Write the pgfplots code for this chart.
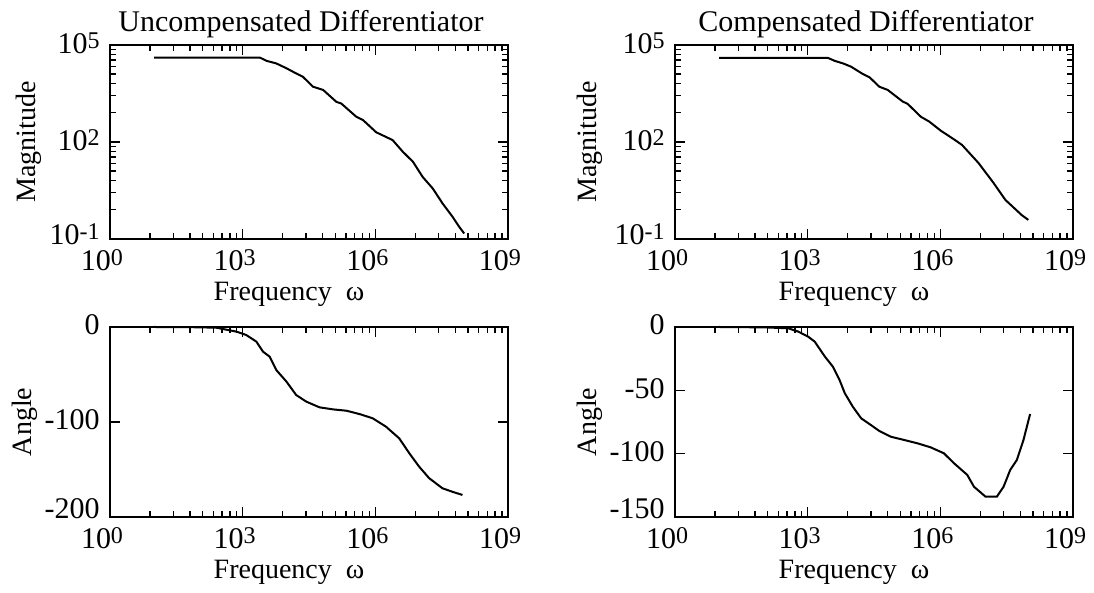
\documentclass[border=0pt]{standalone}
\usepackage{fontspec}
\setmainfont{Liberation Serif}
\usepackage{pgfplots}
\pgfplotsset{compat=1.18}
\newcommand{\fsz}{\fontsize{14}{16}\selectfont}
\newcommand{\ttz}{\fontsize{15}{17}\selectfont}
\newcommand{\tfz}{\fontsize{15}{17}\selectfont}
\newcommand{\tsup}[1]{\raisebox{2.5pt}{\fontsize{12}{13}\selectfont #1}}
\pgfplotsset{every axis title/.style={at={(0.5,1)}, anchor=base, yshift=6.5pt, xshift=-4pt, font=\ttz}}
\begin{document}
\begin{tikzpicture}
\useasboundingbox (0,0) rectangle (547pt,296.5pt);
% ---------- top left
\begin{axis}[at={(55pt,274pt)}, anchor=north west,
    scale only axis, width=199pt, height=97pt,
    xmode=log, ymode=log, xmin=1, xmax=1e9, ymin=0.1, ymax=1e5,
    xtick={1,1e3,1e6,1e9},
    xticklabels={10\tsup{0},10\tsup{3},10\tsup{6},10\tsup{9}},
    minor xtick={8,27,64,125,216,343,512,729,8e3,2.7e4,6.4e4,1.25e5,2.16e5,3.43e5,5.12e5,7.29e5,8e6,2.7e7,6.4e7,1.25e8,2.16e8,3.43e8,5.12e8,7.29e8},
    ytick={0.1,100,1e5},
    yticklabels={\raisebox{3pt}{10\tsup{-1}},10\tsup{2},10\tsup{5}},
    minor ytick={0.8,2.7,6.4,12.5,21.6,34.3,51.2,72.9,800,2700,6400,12500,21600,34300,51200,72900},
    tick align=inside, major tick length=5pt, minor tick length=3pt,
    axis line style={line width=1pt},
    every tick/.append style={black, line width=0.7pt},
    tick label style={font=\tfz, inner sep=1pt}, label style={font=\fsz},
    xticklabel style={xshift=-4pt, yshift=-4.3pt},
    yticklabel style={xshift=-4pt, yshift=1pt},
    xlabel={Frequency\ \ ω},
    xlabel style={at={(axis description cs:0.5,0)}, anchor=base, yshift=-31pt, xshift=-10pt},
    ylabel={Magnitude},
    ylabel style={at={(axis description cs:-0.205,0.5)}, anchor=center},
    title={Uncompensated Differentiator}, clip=false]
\addplot[black, line width=1pt, mark=none] table {
x y
1e1 4.074e4
2.455e3 4.074e4
3.467e3 3.236e4
5.754e3 2.692e4
9.772e3 1.905e4
1.622e4 1.318e4
2.291e4 1.047e4
3.890e4 5.129e3
6.607e4 4.074e3
1.318e5 1.738e3
1.698e5 1.549e3
3.715e5 6.026e2
5.248e5 4.786e2
1.047e6 1.995e2
2.455e6 1.148e2
4.169e6 5.012e1
7.079e6 2.455e1
1.175e7 8.318
1.995e7 3.631
3.311e7 1.259
5.623e7 0.4786
7.943e7 0.2344
1.023e8 0.1479
};
\end{axis}
% ---------- top right
\begin{axis}[at={(337.5pt,274pt)}, anchor=north west,
    scale only axis, width=199pt, height=97pt,
    xmode=log, ymode=log, xmin=1, xmax=1e9, ymin=0.1, ymax=1e5,
    xtick={1,1e3,1e6,1e9},
    xticklabels={10\tsup{0},10\tsup{3},10\tsup{6},10\tsup{9}},
    minor xtick={8,27,64,125,216,343,512,729,8e3,2.7e4,6.4e4,1.25e5,2.16e5,3.43e5,5.12e5,7.29e5,8e6,2.7e7,6.4e7,1.25e8,2.16e8,3.43e8,5.12e8,7.29e8},
    ytick={0.1,100,1e5},
    yticklabels={\raisebox{3pt}{10\tsup{-1}},10\tsup{2},10\tsup{5}},
    minor ytick={0.8,2.7,6.4,12.5,21.6,34.3,51.2,72.9,800,2700,6400,12500,21600,34300,51200,72900},
    tick align=inside, major tick length=5pt, minor tick length=3pt,
    axis line style={line width=1pt},
    every tick/.append style={black, line width=0.7pt},
    tick label style={font=\tfz, inner sep=1pt}, label style={font=\fsz},
    xticklabel style={xshift=-4pt, yshift=-4.3pt},
    yticklabel style={xshift=-4pt, yshift=1pt},
    xlabel={Frequency\ \ ω},
    xlabel style={at={(axis description cs:0.5,0)}, anchor=base, yshift=-31pt, xshift=-10pt},
    ylabel={Magnitude},
    ylabel style={at={(axis description cs:-0.215,0.5)}, anchor=center},
    title={Compensated Differentiator}, clip=false]
\addplot[black, line width=1pt, mark=none] table {
x y
1e1 3.981e4
2.884e3 3.981e4
4.074e3 3.236e4
6.310e3 2.692e4
9.550e3 2.138e4
1.778e4 1.259e4
2.512e4 1.000e4
4.169e4 5.129e3
6.457e4 4.074e3
1.413e5 1.778e3
1.820e5 1.514e3
3.631e5 6.026e2
5.623e5 4.266e2
1.023e6 2.239e2
2.042e6 1.202e2
3.090e6 8.128e1
7.413e6 2.188e1
1.622e7 5.248
2.951e7 1.622
6.918e7 0.5495
9.772e7 0.3890
};
\end{axis}
% ---------- bottom left
\begin{axis}[at={(55pt,133pt)}, anchor=north west,
    scale only axis, width=199pt, height=95pt,
    xmode=log, xmin=1, xmax=1e9,
    ymin=-200, ymax=0, ytick={-200,-100,0}, yticklabels={\raisebox{6pt}{-200},-100,0},
    xtick={1,1e3,1e6,1e9},
    xticklabels={10\tsup{0},10\tsup{3},10\tsup{6},10\tsup{9}},
    minor xtick={8,27,64,125,216,343,512,729,8e3,2.7e4,6.4e4,1.25e5,2.16e5,3.43e5,5.12e5,7.29e5,8e6,2.7e7,6.4e7,1.25e8,2.16e8,3.43e8,5.12e8,7.29e8},
    tick align=inside, major tick length=5pt, minor tick length=3pt,
    axis line style={line width=1pt},
    every tick/.append style={black, line width=0.7pt},
    tick label style={font=\tfz, inner sep=1pt}, label style={font=\fsz},
    xticklabel style={xshift=-4pt, yshift=-4.3pt},
    yticklabel style={xshift=-4pt, yshift=1pt},
    xlabel={Frequency\ \ ω},
    xlabel style={at={(axis description cs:0.5,0)}, anchor=base, yshift=-31pt, xshift=-10pt},
    ylabel={Angle},
    ylabel style={at={(axis description cs:-0.215,0.5)}, anchor=center},
    clip=false]
\addplot[black, line width=1pt, mark=none] table {
x y
1e1 0
1e2 -0.3
2.570e2 -0.8
7.244e2 -4.9
1.202e3 -8.4
2.042e3 -15.4
2.884e3 -26
4.074e3 -31.2
5.754e3 -45.3
9.772e3 -57.5
1.622e4 -71.6
2.754e4 -78.6
5.495e4 -84.6
1.096e5 -86.7
2.188e5 -88.1
4.365e5 -91.6
8.710e5 -96.1
1.738e6 -104.9
3.467e6 -117.2
5.888e6 -133
9.772e6 -147
1.660e7 -159.3
3.311e7 -169.8
5.495e7 -173.4
9.333e7 -176.8
};
\end{axis}
% ---------- bottom right
\begin{axis}[at={(337.5pt,133pt)}, anchor=north west,
    scale only axis, width=199pt, height=95pt,
    xmode=log, xmin=1, xmax=1e9,
    ymin=-150, ymax=0, ytick={-150,-100,-50,0}, yticklabels={\raisebox{6pt}{-150},-100,-50,0},
    xtick={1,1e3,1e6,1e9},
    xticklabels={10\tsup{0},10\tsup{3},10\tsup{6},10\tsup{9}},
    minor xtick={8,27,64,125,216,343,512,729,8e3,2.7e4,6.4e4,1.25e5,2.16e5,3.43e5,5.12e5,7.29e5,8e6,2.7e7,6.4e7,1.25e8,2.16e8,3.43e8,5.12e8,7.29e8},
    tick align=inside, major tick length=5pt, minor tick length=3pt,
    axis line style={line width=1pt},
    every tick/.append style={black, line width=0.7pt},
    tick label style={font=\tfz, inner sep=1pt}, label style={font=\fsz},
    xticklabel style={xshift=-4pt, yshift=-4.3pt},
    yticklabel style={xshift=-4pt, yshift=1pt},
    xlabel={Frequency\ \ ω},
    xlabel style={at={(axis description cs:0.5,0)}, anchor=base, yshift=-31pt, xshift=-10pt},
    ylabel={Angle},
    ylabel style={at={(axis description cs:-0.215,0.5)}, anchor=center},
    clip=false]
\addplot[black, line width=1pt, mark=none] table {
x y
1e1 0
1e2 -0.3
3.631e2 -1.0
6.166e2 -3.7
1.023e3 -7.6
1.445e3 -11.6
2.455e3 -23.4
3.715e3 -31.3
5.248e3 -41.8
6.918e3 -52.3
1.047e4 -62.9
1.622e4 -72.1
2.692e4 -77.4
4.169e4 -82.1
7.586e4 -86.6
1.514e5 -89.2
3.020e5 -91.8
6.026e5 -95.0
1.202e6 -99.7
2.042e6 -107.6
4.074e6 -116.8
5.754e6 -126.1
1.047e7 -133.9
1.905e7 -133.9
2.692e7 -126.1
3.802e7 -112.9
5.370e7 -105.0
7.586e7 -89.2
1.072e8 -68.7
};
\end{axis}
\end{tikzpicture}
\end{document}
